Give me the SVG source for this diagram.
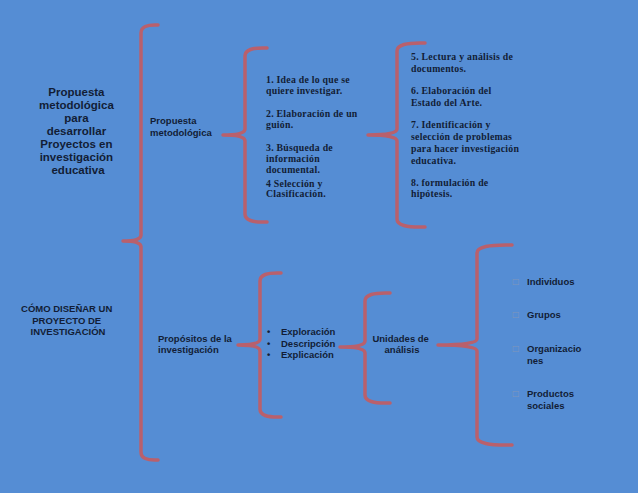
<svg xmlns="http://www.w3.org/2000/svg" width="638" height="493" viewBox="0 0 638 493">
<style>
.br{fill:none;stroke:#B9606C;stroke-width:3.5;stroke-linecap:round;stroke-linejoin:round}
.sans{font-family:"Liberation Sans",Arial,sans-serif;font-weight:bold;fill:#121d36}
.t1{font-size:11.5px}
.t2{font-size:9.5px}
.ser{font-family:"Liberation Serif","Times New Roman",serif;font-weight:bold;font-size:9.8px;fill:#121d36;letter-spacing:0.25px}
.sq{font-family:"DejaVu Sans",sans-serif;font-size:8px;fill:#8196bb}
</style>
<rect width="638" height="493" fill="#558DD4"/>
<g id="connectors">
<path class="br" d="M158,25 Q141,24 141,33 L141,235 Q141,241 123,241 Q141,241 141,247 L141,452 Q141,461 158,460"/>
<path class="br" d="M267,48 Q245,47 245,56 L245,129 Q245,135 223,135 Q245,135 245,141 L245,214 Q245,223 267,222"/>
<path class="br" d="M425,43 Q397,42 397,51 L397,129 Q397,135 368,135 Q397,135 397,141 L397,219 Q397,228 425,227"/>
<path class="br" d="M281,273 Q260,272 260,281 L260,339 Q260,345 238,345 Q260,345 260,351 L260,409 Q260,418 281,417"/>
<path class="br" d="M390,293 Q365,292 365,301 L365,341 Q365,347 340,347 Q365,347 365,353 L365,395 Q365,404 390,403"/>
<path class="br" d="M512,245 Q477,244 477,253 L477,339 Q477,345 438,345 Q477,345 477,351 L477,437 Q477,446 512,445"/>
</g>
<g id="titulo-propuesta">
<text class="sans t1" text-anchor="middle">
<tspan x="78" y="96">Propuesta</tspan>
<tspan x="78" y="109">metodológica</tspan>
<tspan x="78" y="122">para</tspan>
<tspan x="78" y="135">desarrollar</tspan>
<tspan x="78" y="148">Proyectos en</tspan>
<tspan x="78" y="161">investigación</tspan>
<tspan x="78" y="174">educativa</tspan>
</text>
</g>
<g id="como-disenar">
<text class="sans t2" text-anchor="middle">
<tspan x="68" y="311.5">CÓMO DISEÑAR UN</tspan>
<tspan x="68" y="323.5">PROYECTO DE</tspan>
<tspan x="68" y="334.5">INVESTIGACIÓN</tspan>
</text>
</g>
<g id="propuesta-metodologica">
<text class="sans t2">
<tspan x="150" y="123.5">Propuesta</tspan>
<tspan x="150" y="135.5">metodológica</tspan>
</text>
</g>
<g id="pasos-1-4">
<text class="ser">
<tspan x="266" y="82.5">1. Idea de lo que se</tspan>
<tspan x="266" y="93.5">quiere investigar.</tspan>
<tspan x="266" y="116.5">2. Elaboración de un</tspan>
<tspan x="266" y="127.5">guión.</tspan>
<tspan x="266" y="150.5">3. Búsqueda de</tspan>
<tspan x="266" y="161.5">información</tspan>
<tspan x="266" y="172.5">documental.</tspan>
<tspan x="266" y="186.5">4 Selección y</tspan>
<tspan x="266" y="197">Clasificación.</tspan>
</text>
</g>
<g id="pasos-5-8">
<text class="ser">
<tspan x="411" y="59.5">5. Lectura y análisis de</tspan>
<tspan x="411" y="71.5">documentos.</tspan>
<tspan x="411" y="93.5">6. Elaboración del</tspan>
<tspan x="411" y="105.5">Estado del Arte.</tspan>
<tspan x="411" y="127.5">7. Identificación y</tspan>
<tspan x="411" y="139.5">selección de problemas</tspan>
<tspan x="411" y="151.5">para hacer investigación</tspan>
<tspan x="411" y="163.5">educativa.</tspan>
<tspan x="411" y="185.5">8. formulación de</tspan>
<tspan x="411" y="196.5">hipótesis.</tspan>
</text>
</g>
<g id="propositos">
<text class="sans t2">
<tspan x="158" y="341.5">Propósitos de la</tspan>
<tspan x="158" y="352.5">investigación</tspan>
</text>
</g>
<g id="tipos">
<text class="sans t2">
<tspan x="267" y="334.5">•</tspan>
<tspan x="267" y="346.5">•</tspan>
<tspan x="267" y="357.5">•</tspan>
</text>
<text class="sans t2">
<tspan x="281" y="334.5">Exploración</tspan>
<tspan x="281" y="346.5">Descripción</tspan>
<tspan x="281" y="357.5">Explicación</tspan>
</text>
</g>
<g id="unidades">
<text class="sans t2" text-anchor="middle">
<tspan x="402" y="341.5">Unidades de</tspan>
<tspan x="402" y="352.5">análisis</tspan>
</text>
</g>
<g id="unidades-lista">
<text class="sq">
<tspan x="512" y="284">□</tspan>
<tspan x="512" y="317">□</tspan>
<tspan x="512" y="351">□</tspan>
<tspan x="512" y="396">□</tspan>
</text>
<text class="sans t2">
<tspan x="527" y="284.5">Individuos</tspan>
<tspan x="527" y="317.5">Grupos</tspan>
<tspan x="527" y="351.5">Organizacio</tspan>
<tspan x="527" y="363.5">nes</tspan>
<tspan x="527" y="396.5">Productos</tspan>
<tspan x="527" y="408.5">sociales</tspan>
</text>
</g>
</svg>
